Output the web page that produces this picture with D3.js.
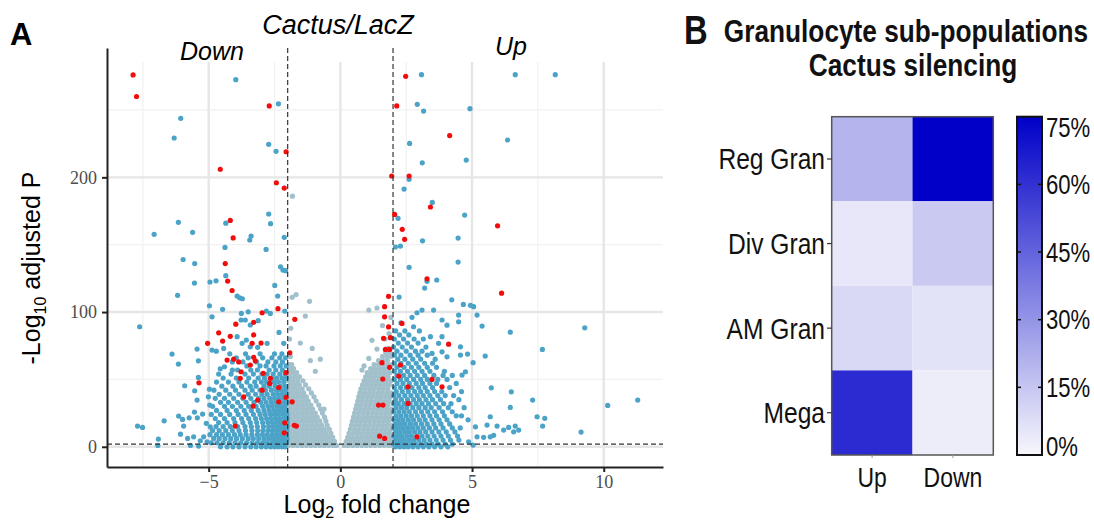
<!DOCTYPE html>
<html>
<head>
<meta charset="utf-8">
<script src="https://cdn.jsdelivr.net/npm/d3@7"></script>
<style>
  body { margin: 0; background: #fff; }
  svg { display: block; }
</style>
</head>
<body>
<svg id="fig" width="1094" height="520"></svg>
<script>
// ---- panel A: volcano plot (log2 fold change, -log10 adjusted p) ----
// not significant genes, given as rows [y, [x, x, ...]]
const GRAY_ROWS = [
  [1, [-1.97,-1.80,-1.63,-1.46,-1.29,-1.12,-0.95,-0.78,-0.61,-0.44,-0.27,-0.15, 0.15,0.30,0.47,0.64,0.81,0.98,1.15,1.32,1.49,1.66,1.83,1.97]],
  [4, [-1.90,-1.73,-1.56,-1.39,-1.22,-1.05,-0.88,-0.71,-0.54,-0.37,-0.22, 0.22,0.38,0.55,0.72,0.89,1.06,1.23,1.40,1.57,1.74,1.90]],
  [7, [-1.97,-1.80,-1.63,-1.46,-1.29,-1.12,-0.95,-0.78,-0.61,-0.44,-0.29, 0.28,0.45,0.62,0.79,0.96,1.13,1.30,1.47,1.64,1.81,1.97]],
  [10, [-1.90,-1.73,-1.56,-1.39,-1.22,-1.05,-0.88,-0.71,-0.54,-0.36, 0.33,0.50,0.67,0.84,1.01,1.18,1.35,1.52,1.69,1.86]],
  [13, [-1.97,-1.80,-1.63,-1.46,-1.29,-1.12,-0.95,-0.78,-0.61,-0.42, 0.38,0.55,0.72,0.89,1.06,1.23,1.40,1.57,1.74,1.91]],
  [16, [-1.90,-1.73,-1.56,-1.39,-1.22,-1.05,-0.88,-0.71,-0.50, 0.42,0.59,0.76,0.93,1.10,1.27,1.44,1.61,1.78,1.95]],
  [19, [-1.97,-1.80,-1.63,-1.46,-1.29,-1.12,-0.95,-0.78,-0.55, 0.46,0.63,0.80,0.97,1.14,1.31,1.48,1.65,1.82]],
  [22, [-1.90,-1.73,-1.56,-1.39,-1.22,-1.05,-0.88,-0.60, 0.50,0.67,0.84,1.01,1.18,1.35,1.52,1.69,1.86]],
  [25, [-1.97,-1.80,-1.63,-1.46,-1.29,-1.12,-0.95,-0.68, 0.54,0.71,0.88,1.05,1.22,1.39,1.56,1.73,1.90]],
  [28, [-1.90,-1.73,-1.56,-1.39,-1.22,-1.05,-0.75, 0.58,0.75,0.92,1.09,1.26,1.43,1.60,1.77,1.94]],
  [31, [-1.97,-1.80,-1.63,-1.46,-1.29,-1.12,-0.82, 0.62,0.79,0.96,1.13,1.30,1.47,1.64,1.81]],
  [34, [-1.90,-1.73,-1.56,-1.39,-1.22,-0.92, 0.66,0.83,1.00,1.17,1.34,1.51,1.68,1.85]],
  [37, [-1.97,-1.80,-1.63,-1.46,-1.29,-1.00, 0.70,0.87,1.04,1.21,1.38,1.55,1.72,1.89]],
  [40, [-1.90,-1.73,-1.56,-1.39,-1.10, 0.74,0.91,1.08,1.25,1.42,1.59,1.76,1.93]],
  [43, [-1.97,-1.80,-1.63,-1.45,-1.20, 0.78,0.95,1.12,1.29,1.46,1.63,1.80]],
  [46, [-1.90,-1.73,-1.56,-1.32, 0.84,1.01,1.18,1.35,1.52,1.69,1.86]],
  [49, [-1.97,-1.80,-1.62,-1.42, 0.90,1.07,1.24,1.41,1.58,1.75,1.92]],
  [52, [-1.90,-1.72,-1.55, 0.96,1.13,1.30,1.47,1.64,1.81]],
  [55, [-1.97,-1.82,-1.66, 1.02,1.19,1.36,1.53,1.70,1.87]],
  [58, [-1.92,-1.78, 1.15,1.32,1.49,1.66,1.83]],
  [61, [-1.95,-1.85, 1.28,1.45,1.62,1.79,1.95]],
  [64, [1.45,1.62,1.79]],
  [67, [-1.90, 1.60,1.77,1.93]],
  [70, [1.72,1.88]],
  [73, [1.82]]
];
const GRAY_EXTRA = [[-1.52,77],[-1.07,73],[-1.14,64],[-0.76,65],[-0.95,56],[-1.33,97],[-1.83,111],
  [-1.68,113],[-1.17,108],[-1.82,186],[-0.62,28],[-1.93,80],[-1.88,88],[1.08,101.5],[1.39,103],
  [1.2,79],[1.39,72.5],[1.08,65.6],[0.9,60],[1.7,80],[1.85,84],[1.6,90],[1.92,96],[0.82,57]];

// significant genes, left and right clouds as rows
const BLUE_LEFT_ROWS = [
  [69, [-4.20,-3.60,-3.05,-2.50,-2.22]],
  [66, [-3.95,-3.50,-2.95,-2.60,-2.30,-2.08]],
  [63, [-4.10,-3.70,-3.18,-2.75,-2.45,-2.20]],
  [60, [-3.55,-3.05,-2.82,-2.52,-2.28,-2.06]],
  [57, [-4.10,-3.90,-3.40,-3.15,-2.70,-2.45,-2.20]],
  [54, [-4.62,-4.15,-3.62,-3.30,-2.98,-2.78,-2.55,-2.30,-2.10]],
  [51, [-4.45,-3.95,-3.48,-3.12,-2.88,-2.60,-2.42,-2.22,-2.05]],
  [48, [-4.70,-4.25,-3.85,-3.55,-3.25,-3.00,-2.80,-2.52,-2.35,-2.15]],
  [45, [-4.50,-4.08,-3.75,-3.42,-3.20,-2.90,-2.70,-2.48,-2.28,-2.10]],
  [42, [-4.80,-4.35,-3.98,-3.62,-3.35,-3.05,-2.85,-2.62,-2.42,-2.25,-2.08]],
  [39, [-4.60,-4.20,-3.85,-3.50,-3.22,-2.98,-2.78,-2.55,-2.38,-2.20,-2.05]],
  [36, [-4.75,-4.40,-4.05,-3.70,-3.40,-3.10,-2.90,-2.68,-2.50,-2.32,-2.15]],
  [33, [-4.55,-4.25,-3.90,-3.58,-3.28,-3.02,-2.82,-2.62,-2.45,-2.28,-2.12,-2.02]],
  [30, [-4.85,-4.40,-4.10,-3.78,-3.48,-3.20,-2.95,-2.75,-2.58,-2.40,-2.25,-2.10]],
  [27, [-4.70,-4.30,-3.95,-3.65,-3.38,-3.12,-2.90,-2.70,-2.52,-2.36,-2.20,-2.06]],
  [24, [-4.90,-4.55,-4.20,-3.88,-3.58,-3.30,-3.05,-2.85,-2.65,-2.48,-2.32,-2.16,-2.03]],
  [21, [-4.75,-4.40,-4.05,-3.75,-3.48,-3.22,-3.00,-2.80,-2.62,-2.45,-2.30,-2.15,-2.02]],
  [18, [-4.62,-4.30,-4.00,-3.70,-3.42,-3.18,-2.95,-2.75,-2.58,-2.42,-2.28,-2.14,-2.02]],
  [15, [-4.72,-4.45,-4.18,-3.90,-3.62,-3.38,-3.15,-2.92,-2.72,-2.55,-2.40,-2.26,-2.12,-2.02]],
  [12, [-4.85,-4.60,-4.35,-4.10,-3.85,-3.60,-3.36,-3.14,-2.94,-2.75,-2.58,-2.42,-2.28,-2.14,-2.03]],
  [9, [-4.95,-4.70,-4.48,-4.25,-4.02,-3.80,-3.58,-3.36,-3.15,-2.96,-2.78,-2.60,-2.44,-2.30,-2.16,-2.04]],
  [6, [-4.60,-4.38,-4.16,-3.94,-3.72,-3.50,-3.30,-3.10,-2.90,-2.72,-2.55,-2.40,-2.25,-2.12,-2.02]],
  [3, [-4.90,-4.68,-4.45,-4.22,-4.00,-3.78,-3.56,-3.35,-3.15,-2.95,-2.78,-2.60,-2.44,-2.30,-2.16,-2.04]],
  [0, [-4.55,-4.30,-4.08,-3.85,-3.62,-3.40,-3.20,-3.00,-2.82,-2.65,-2.50,-2.36,-2.22,-2.10]]
];
const BLUE_RIGHT_ROWS = [
  [92, [2.30]],
  [86, [2.10,2.45,3.00]],
  [83, [2.25,2.60]],
  [80, [2.05,2.40,2.80,3.15]],
  [77, [2.20,2.55,2.95]],
  [74, [2.02,2.35,2.70,3.25]],
  [71, [2.15,2.50,2.85,3.10]],
  [68, [2.05,2.30,2.65,2.95,3.30]],
  [65, [2.18,2.45,2.75,3.05,3.60]],
  [62, [2.05,2.30,2.58,2.88,3.20,3.50]],
  [59, [2.15,2.42,2.70,2.98,3.30,3.65]],
  [56, [2.05,2.28,2.55,2.82,3.10,3.40,3.95]],
  [53, [2.15,2.40,2.65,2.92,3.20,3.55,3.90,4.25]],
  [50, [2.05,2.28,2.52,2.78,3.05,3.30,3.70,4.05]],
  [47, [2.15,2.38,2.62,2.88,3.12,3.40,3.65,4.40]],
  [44, [2.05,2.28,2.50,2.72,2.98,3.22,3.50,4.15]],
  [41, [2.12,2.35,2.58,2.82,3.05,3.30,3.58,3.85,4.60]],
  [38, [2.02,2.22,2.45,2.68,2.92,3.15,3.40,3.70,3.98,4.30]],
  [35, [2.10,2.32,2.55,2.78,3.00,3.25,3.50,3.80,4.50]],
  [32, [2.02,2.20,2.42,2.65,2.88,3.10,3.35,3.62,3.92,4.20]],
  [29, [2.12,2.32,2.52,2.75,2.98,3.22,3.45,3.75,4.10,4.70]],
  [26, [2.02,2.22,2.42,2.62,2.85,3.08,3.32,3.58,3.88,4.25]],
  [23, [2.12,2.30,2.50,2.70,2.92,3.15,3.40,3.65,3.95,4.40,4.60]],
  [20, [2.02,2.20,2.38,2.58,2.78,3.00,3.22,3.48,3.75,4.05,4.85]],
  [17, [2.10,2.28,2.46,2.66,2.86,3.08,3.30,3.55,3.82,4.15]],
  [14, [2.02,2.18,2.36,2.55,2.74,2.94,3.15,3.38,3.62,3.90,4.25,4.55]],
  [11, [2.10,2.26,2.44,2.62,2.82,3.02,3.24,3.48,3.74,4.02,4.35]],
  [8, [2.02,2.18,2.34,2.52,2.70,2.90,3.10,3.32,3.56,3.82,4.10,4.45]],
  [5, [2.10,2.26,2.42,2.60,2.78,2.98,3.18,3.40,3.64,3.90,4.18,4.50]],
  [2, [2.02,2.18,2.34,2.50,2.68,2.86,3.06,3.26,3.48,3.72,3.98,4.25]],
  [0, [2.10,2.26,2.42,2.58,2.76,2.95,3.15,3.36,3.58,3.82,4.08]]
];
const BLUE_EXTRA = [
  [-3.97,272.5],[-2.35,254.6],[-6.06,243.8],[-6.31,229.2],[-2.72,224.5],[-2.44,219.3],[-2.72,172.8],
  [-2.65,165.6],[-4.35,166],[-6.15,166.6],[-7.07,157.7],[-5.61,159.2],[-3.39,156.4],[-3.44,153.5],
  [-2.13,155.5],[-2.82,146.5],[-4.38,148],[-5.97,139],[-5.53,136],[-2.27,133.6],[-2.18,131.2],
  [-2.08,130.7],[-4.35,127],[-5.54,121.5],[-4.95,122.3],[-4.72,123.2],[-2.49,119.8],[-6.18,112.4],
  [-3.92,111.9],[-3.82,110.6],[-3.72,109.9],[-2.38,111.9],[-4.97,104.7],[-7.62,89.1],[-4.87,96.5],
  [-4.47,102],[-3.76,99],[-3.50,100.2],[-3.77,94.1],[-2.66,99],[-2.81,100.7],[-2.11,100.7],
  [-3.61,94.1],[-3.42,90.4],[-3.12,93.6],[-2.33,84.9],[-3.92,81.7],[-3.73,76.8],[-3.57,79.2],
  [-3.42,74.2],[-2.78,76.8],[-2.15,76.8],[-4.71,71],[-4.43,73],[-6.15,61.4],[-5.44,72.5],
  [-4.87,71.8],[-3.14,73.8],[-5.39,63.8],[-5.39,51.5],[-4.56,57.9],[-4.40,59.4],[-4.97,42.8],
  [-5.01,37.1],[-4.96,31],[-5.91,45.3],[-5.53,41.6],[-5.44,34.7],[-6.14,22.8],[-5.99,20.3],
  [-5.74,21.5],[-5.54,25.8],[-5.43,21.5],[-5.23,24.3],[-6.69,19.3],[-7.70,15.4],[-7.51,14.4],
  [-6.91,5.7],[-6.93,1],[-6.07,9.4],[-5.95,15.4],[-5.80,6.2],[-5.57,7.4],[-5.32,4.5],[-5.69,1],
  [-5.38,0.5],[-5.19,7.4],[-5.06,3.7],[-4.81,6.2],[-5.09,17.4],[-4.94,14.8],[-6.39,68.8],
  [3.08,276.2],[6.64,276.2],[8.16,276.2],[2.92,254.2],[3.16,249.2],[4.92,251],[6.35,227.7],
  [2.63,225.2],[3.11,210.8],[4.78,212.8],[2.61,198.5],[2.42,191.3],[3.49,181.4],[4.72,172],
  [2.19,169.6],[3.12,152.9],[4.47,154.9],[2.09,148.3],[2.28,149],[4.47,137.1],[2.61,133.2],
  [3.29,122.8],[3.66,123.8],[3.20,117.8],[2.23,111.1],[4.23,109.1],[4.67,105.7],[4.94,105],
  [5.06,104],[3.54,101.5],[3.10,101.5],[2.91,99.5],[2.72,96.1],[4.49,97.8],[5.19,97.8],[5.38,89.6],
  [4.05,90.3],[4.49,92.8],[3.86,94.1],[2.78,89.1],[6.45,85.1],[9.28,88.3],[3.86,81.7],[3.42,81.7],
  [3.73,76.8],[3.48,69.3],[3.86,70.5],[4.05,66.8],[4.56,74.2],[4.56,68.1],[4.83,68.8],[5.04,62.4],
  [5.50,67.3],[4.75,55.7],[4.62,53.2],[7.67,72.3],[5.73,43.8],[6.49,40.8],[6.45,29.2],[7.30,34.7],
  [10.15,30.7],[11.29,34.7],[7.47,22.3],[7.76,21.1],[7.68,15.4],[9.14,10.9],[5.69,22.3],[5.13,14.8],
  [5.57,16.1],[5.95,15.4],[6.20,12.4],[6.39,14.4],[6.58,11.1],[6.77,12.4],[6.64,15.4],[5.19,7.4],
  [5.44,7],[5.69,7.4],[5.82,8.5],[5.04,1.3],[4.87,3.7]
];
// highlighted genes
const RED_PTS = [
  [-7.87,276],[-7.74,260],[-2.70,253],[-2.06,219],[-4.56,206],[-2.43,196],[-2.13,192],[-4.18,168],
  [-4.07,155],[-4.37,136],[-4.28,123],[-4.11,116],[-2.37,102.5],[-2.97,99.5],[-3.97,91],[-3.29,92.4],
  [-1.73,94.6],[-4.62,84.6],[-4.47,78.5],[-5.04,76.8],[-4.18,82],[-3.29,83],[-3.01,77],[-3.35,76.8],
  [-4.30,64.4],[-4.05,65],[-3.86,63],[-3.29,66.4],[-3.23,63.8],[-3.42,60.7],[-3.77,55.7],[-3.80,50.8],
  [-2.93,54.5],[-2.66,50.8],[-2.68,47],[-2.34,44],[-2.06,55],[-2.97,42],[-3.67,37],[-3.14,34.7],
  [-3.31,30.2],[-2.34,33.4],[-2.06,36.7],[-1.83,33.4],[-2.11,17.8],[-2.13,10.4],[-1.75,16],[-1.67,15.4],
  [-3.99,15.4],[-5.37,47.5],[-1.92,69.8],
  [2.48,275],[2.14,253],[4.15,231],[1.95,201],[2.61,201],[3.42,178],[2.06,172.5],[5.97,164],
  [2.35,161.4],[2.44,154],[3.29,124.7],[6.12,114],[1.83,111.7],[1.68,104],[2.34,91.6],[4.11,76.2],
  [3.48,50],[3.86,44.5],[2.57,44.5],[2.57,32.2],[2.22,52.5],[2.28,60.7],[1.87,72.3],[1.71,72.3],
  [1.90,81],[1.64,80.5],[1.83,89],[1.68,96.5],[1.58,62.4],[1.87,59],[1.61,50.3],[1.45,31],[1.62,31],
  [1.49,7.9],[1.68,6.2],[2.91,7.4]
];

const X_TICKS = [-5, 0, 5, 10];
const X_MINOR = [-7.5, -2.5, 2.5, 7.5];
const Y_TICKS = [0, 100, 200];
const Y_MINOR = [50, 150, 250];
const FC_CUT = [-2, 2];
const P_CUT = 2;

// ---- panel B: heatmap ----
const GRAN_ROWS = ["Reg Gran", "Div Gran", "AM Gran", "Mega"];
const GRAN_COLS = ["Up", "Down"];
const UP_PCT = [20, 5, 9, 62];
const DOWN_PCT = [75, 14, 6, 3];
const BAR_TICKS = [0, 15, 30, 45, 60, 75];

const SANS = "'Liberation Sans', Arial, sans-serif";
const NARROW = 0.82;   // panel B uses a condensed face

function expandRows(rows) {
  let out = [];
  rows.forEach(([yv, xs]) => xs.forEach(xv => out.push([xv, yv])));
  return out;
}

// condensed text: squeeze a regular face horizontally
function narrowText(parent, px, py, str, size, anchor, bold) {
  return parent.append('text')
    .attr('transform', `translate(${px},${py}) scale(${NARROW},1)`)
    .attr('text-anchor', anchor || 'start')
    .attr('font-family', SANS).attr('font-size', size)
    .attr('font-weight', bold ? 'bold' : 'normal')
    .attr('fill', '#111').text(str);
}

let svg = d3.select('#fig');

function drawVolcano() {
  let x = d3.scaleLinear().domain([-8.86, 12.25]).range([107, 663]);
  let y = d3.scaleLinear().domain([-15, 296]).range([467, 48]);

  let grid = svg.append('g');
  grid.selectAll('.vmin').data(X_MINOR).join('line')
      .attr('x1', d => x(d)).attr('x2', d => x(d)).attr('y1', 62).attr('y2', 467)
      .attr('stroke', '#f1f1f1').attr('stroke-width', 1.2);
  grid.selectAll('.hmin').data(Y_MINOR).join('line')
      .attr('x1', 107).attr('x2', 663).attr('y1', d => y(d)).attr('y2', d => y(d))
      .attr('stroke', '#f1f1f1').attr('stroke-width', 1.2);
  grid.selectAll('.vmaj').data(X_TICKS).join('line')
      .attr('x1', d => x(d)).attr('x2', d => x(d)).attr('y1', 62).attr('y2', 467)
      .attr('stroke', '#e6e6e6').attr('stroke-width', 2.4);
  grid.selectAll('.hmaj').data(Y_TICKS).join('line')
      .attr('x1', 107).attr('x2', 663).attr('y1', d => y(d)).attr('y2', d => y(d))
      .attr('stroke', '#e6e6e6').attr('stroke-width', 2.4);

  let pts = svg.append('g');
  let gray = expandRows(GRAY_ROWS).concat(GRAY_EXTRA);
  let blue = expandRows(BLUE_LEFT_ROWS).concat(expandRows(BLUE_RIGHT_ROWS), BLUE_EXTRA);
  [[gray, '#a2c0cb'], [blue, '#4ba3c8'], [RED_PTS, '#f20d0d']].forEach(([set, col]) => {
    pts.append('g').selectAll('circle').data(set).join('circle')
       .attr('cx', d => x(d[0])).attr('cy', d => y(d[1])).attr('r', 2.6)
       .attr('fill', col);
  });

  let cuts = svg.append('g').attr('stroke', '#333').attr('stroke-width', 1.2)
                .attr('stroke-dasharray', '5,3');
  cuts.selectAll('.v').data(FC_CUT).join('line')
      .attr('x1', d => x(d)).attr('x2', d => x(d)).attr('y1', 48).attr('y2', 467);
  cuts.append('line').attr('x1', 107).attr('x2', 663)
      .attr('y1', y(P_CUT)).attr('y2', y(P_CUT));

  let yAxis = svg.append('g').attr('transform', 'translate(107,0)')
                 .call(d3.axisLeft(y).tickValues(Y_TICKS).tickSize(5).tickSizeOuter(0).tickPadding(5));
  let xAxis = svg.append('g').attr('transform', 'translate(0,467)')
                 .call(d3.axisBottom(x).tickValues(X_TICKS).tickSize(5).tickSizeOuter(0).tickPadding(3));
  [yAxis, xAxis].forEach(ax => {
    ax.select('.domain').attr('stroke', '#222').attr('stroke-width', 2);
    ax.selectAll('.tick line').attr('stroke', '#222').attr('stroke-width', 2);
    ax.selectAll('.tick text').attr('font-family', "'Liberation Serif', serif")
      .attr('font-size', 18).attr('fill', '#4d4d4d');
  });

  let yt = svg.append('text').attr('transform', 'translate(40,268) rotate(-90)')
              .attr('text-anchor', 'middle').attr('font-family', SANS).attr('font-size', 25);
  yt.append('tspan').text('-Log');
  yt.append('tspan').text('10').attr('font-size', 16).attr('dy', 6);
  yt.append('tspan').text(' adjusted P').attr('dy', -6);

  let xt = svg.append('text').attr('x', 377).attr('y', 513)
              .attr('text-anchor', 'middle').attr('font-family', SANS).attr('font-size', 25);
  xt.append('tspan').text('Log');
  xt.append('tspan').text('2').attr('font-size', 16).attr('dy', 5);
  xt.append('tspan').text(' fold change').attr('dy', -5);

  svg.append('text').attr('x', 338).attr('y', 34).attr('text-anchor', 'middle')
     .attr('font-family', SANS).attr('font-style', 'italic').attr('font-size', 27).text('Cactus/LacZ');
  svg.append('text').attr('x', 212).attr('y', 60).attr('text-anchor', 'middle')
     .attr('font-family', SANS).attr('font-style', 'italic').attr('font-size', 25).text('Down');
  svg.append('text').attr('x', 511).attr('y', 55).attr('text-anchor', 'middle')
     .attr('font-family', SANS).attr('font-style', 'italic').attr('font-size', 25).text('Up');
  svg.append('text').attr('x', 10).attr('y', 45)
     .attr('font-family', SANS).attr('font-weight', 'bold').attr('font-size', 31).text('A');
}

function drawHeatmap() {
  let hx = d3.scaleBand().domain(GRAN_COLS).range([831.7, 993.3]);
  let hy = d3.scaleBand().domain(GRAN_ROWS).range([116.7, 455]);
  let color = d3.scaleLinear().domain([0, 75]).range(['#f7f7fc', '#0000c8']);

  let cells = GRAN_ROWS.flatMap((r, i) => [
    {row: r, col: 'Up', v: UP_PCT[i]},
    {row: r, col: 'Down', v: DOWN_PCT[i]}
  ]);

  let g = svg.append('g');
  g.selectAll('rect.cell').data(cells).join('rect').attr('class', 'cell')
   .attr('x', d => hx(d.col)).attr('y', d => hy(d.row))
   .attr('width', hx.bandwidth()).attr('height', hy.bandwidth())
   .attr('fill', d => color(d.v));
  g.append('rect').attr('x', hx.range()[0]).attr('y', hy.range()[0])
   .attr('width', hx.range()[1] - hx.range()[0]).attr('height', hy.range()[1] - hy.range()[0])
   .attr('fill', 'none').attr('stroke', '#555').attr('stroke-width', 1.5);

  // row labels with small ticks
  GRAN_ROWS.forEach(r => {
    let cy = hy(r) + hy.bandwidth() / 2;
    g.append('line').attr('x1', 827).attr('x2', 831.7).attr('y1', cy).attr('y2', cy)
     .attr('stroke', '#333').attr('stroke-width', 1.2);
    narrowText(g, 825, cy + 10.5, r, 30, 'end');
  });
  GRAN_COLS.forEach(c => {
    let cx = hx(c) + hx.bandwidth() / 2;
    g.append('line').attr('x1', cx).attr('x2', cx).attr('y1', 455).attr('y2', 458)
     .attr('stroke', '#999').attr('stroke-width', 1);
    narrowText(g, cx, 487, c, 28, 'middle');
  });

  // colour bar
  let cb = d3.scaleLinear().domain([0, 75]).range([455, 116.7]);
  let grad = svg.append('defs').append('linearGradient').attr('id', 'cbar')
                .attr('x1', 0).attr('x2', 0).attr('y1', 1).attr('y2', 0);
  BAR_TICKS.forEach(t => grad.append('stop').attr('offset', t / 75).attr('stop-color', color(t)));
  g.append('rect').attr('x', 1017).attr('y', cb(75)).attr('width', 25).attr('height', cb(0) - cb(75))
   .attr('fill', 'url(#cbar)').attr('stroke', '#111').attr('stroke-width', 2);
  let inner = BAR_TICKS.slice(1, -1);
  g.selectAll('.tl').data(inner).join('line')
   .attr('x1', 1017).attr('x2', 1021).attr('y1', d => cb(d)).attr('y2', d => cb(d))
   .attr('stroke', '#111').attr('stroke-width', 1.5);
  g.selectAll('.tr').data(inner).join('line')
   .attr('x1', 1038).attr('x2', 1042).attr('y1', d => cb(d)).attr('y2', d => cb(d))
   .attr('stroke', '#111').attr('stroke-width', 1.5);
  BAR_TICKS.forEach(t => {
    let ly = Math.min(Math.max(cb(t), 127), 446) + 9.5;
    narrowText(g, 1046, ly, t + '%', 27, 'start');
  });

  narrowText(g, 906, 42, 'Granulocyte sub-populations', 32, 'middle', true);
  narrowText(g, 913, 76, 'Cactus silencing', 32, 'middle', true);
  narrowText(g, 684, 44, 'B', 40, 'start', true);
}

drawVolcano();
drawHeatmap();
</script>
</body>
</html>
